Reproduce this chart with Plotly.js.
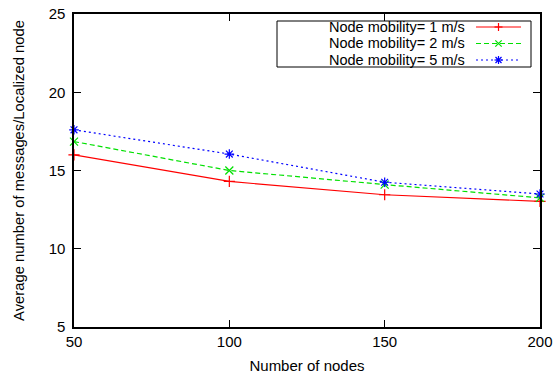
<!DOCTYPE html>
<html>
<head>
<meta charset="utf-8">
<script src="https://cdn.plot.ly/plotly-3.0.1.min.js"></script>
<style>html,body{margin:0;padding:0;background:#fff;}#chart{width:554px;height:374px;}</style>
</head>
<body>
<div id="chart"></div>
<script>
// Data
var nodes = [50, 100, 150, 200];
var mobility1 = [16.0, 14.3, 13.45, 13.03];
var mobility2 = [16.85, 15.0, 14.1, 13.25];
var mobility5 = [17.6, 16.05, 14.25, 13.5];
var seriesNames = ["Node mobility= 1 m/s", "Node mobility= 2 m/s", "Node mobility= 5 m/s"];
var xTicks = [50, 100, 150, 200];
var yTicks = [5, 10, 15, 20, 25];

var colors = ["#ff0000", "#00e000", "#0000ff"];
var dashes = ["solid", "5px,3px", "2px,3px"];
var symbols = ["cross-thin-open", "x-thin-open", "asterisk-open"];
var seriesVals = [mobility1, mobility2, mobility5];

var traces = seriesVals.map(function (v, i) {
  return {
    x: nodes, y: v, type: "scatter", mode: "lines+markers", name: seriesNames[i],
    line: {color: colors[i], width: 1.2, dash: dashes[i]},
    marker: {symbol: symbols[i], size: 8, color: colors[i], line: {color: colors[i], width: 1.2}},
    showlegend: false, cliponaxis: false
  };
});

var font = "Liberation Sans, Arial, Helvetica, sans-serif";

// manual gnuplot-style legend (paper coords); plot area 466 x 313 px, top at 14px
var W = 466, H = 313, TOP = 14, LEFT = 74;
function pxX(p) { return (p - LEFT) / W; }
function pxY(p) { return (TOP + H - p) / H; }
function px(dx) { return dx / W; }
function py(dy) { return dy / H; }
var legRowsY = [pxY(27), pxY(43.5), pxY(60)];
var shapes = [{type: "rect", xref: "paper", yref: "paper", x0: pxX(277), x1: pxX(531), y0: pxY(67), y1: pxY(21),
  line: {color: "#000", width: 1}, fillcolor: "rgba(0,0,0,0)"}];
var annotations = [];
seriesNames.forEach(function (n, i) {
  var y = legRowsY[i];
  annotations.push({xref: "paper", yref: "paper", x: pxX(467), y: y, text: n, showarrow: false,
    xanchor: "right", yanchor: "middle", font: {family: font, size: 14.5, color: "#000"}});
  shapes.push({type: "line", xref: "paper", yref: "paper", x0: pxX(476), x1: pxX(521), y0: y, y1: y,
    line: {color: colors[i], width: 1.2, dash: dashes[i]}});
});
var mx = pxX(498.5);
(function () {
  var y = legRowsY[0], r = 4;
  shapes.push({type: "line", xref: "paper", yref: "paper", x0: mx - px(r), x1: mx + px(r), y0: y, y1: y, line: {color: colors[0], width: 1.2}});
  shapes.push({type: "line", xref: "paper", yref: "paper", x0: mx, x1: mx, y0: y - py(r), y1: y + py(r), line: {color: colors[0], width: 1.2}});
  y = legRowsY[1]; r = 3.2;
  shapes.push({type: "line", xref: "paper", yref: "paper", x0: mx - px(r), x1: mx + px(r), y0: y - py(r), y1: y + py(r), line: {color: colors[1], width: 1.2}});
  shapes.push({type: "line", xref: "paper", yref: "paper", x0: mx - px(r), x1: mx + px(r), y0: y + py(r), y1: y - py(r), line: {color: colors[1], width: 1.2}});
  y = legRowsY[2]; r = 4; var d = 3;
  shapes.push({type: "line", xref: "paper", yref: "paper", x0: mx - px(r), x1: mx + px(r), y0: y, y1: y, line: {color: colors[2], width: 1.2}});
  shapes.push({type: "line", xref: "paper", yref: "paper", x0: mx, x1: mx, y0: y - py(r), y1: y + py(r), line: {color: colors[2], width: 1.2}});
  shapes.push({type: "line", xref: "paper", yref: "paper", x0: mx - px(d), x1: mx + px(d), y0: y - py(d), y1: y + py(d), line: {color: colors[2], width: 1.2}});
  shapes.push({type: "line", xref: "paper", yref: "paper", x0: mx - px(d), x1: mx + px(d), y0: y + py(d), y1: y - py(d), line: {color: colors[2], width: 1.2}});
})();

var layout = {
  width: 554, height: 374,
  margin: {l: 74, r: 14, t: 14, b: 47},
  paper_bgcolor: "#fff", plot_bgcolor: "#fff",
  font: {family: font, size: 15, color: "#000"},
  showlegend: false,
  xaxis: {
    range: [50, 200], tickvals: xTicks, ticktext: xTicks.map(String),
    ticks: "inside", ticklen: 7, tickwidth: 1, tickcolor: "#000",
    showline: true, linecolor: "#000", linewidth: 1.6, mirror: "ticks",
    showgrid: false, zeroline: false,
    tickfont: {family: font, size: 15, color: "#000"},
    title: {text: "Number of nodes", font: {family: font, size: 15, color: "#000"}, standoff: 12}
  },
  yaxis: {
    range: [5, 25], tickvals: yTicks, ticktext: yTicks.map(String),
    ticks: "inside", ticklen: 7, tickwidth: 1, tickcolor: "#000",
    showline: true, linecolor: "#000", linewidth: 1.6, mirror: "ticks",
    showgrid: false, zeroline: false,
    ticklabelstandoff: 4,
    tickfont: {family: font, size: 15, color: "#000"},
    title: {text: "Average number of messages/Localized node", font: {family: font, size: 14.8, color: "#000"}, standoff: 20}
  },
  shapes: shapes,
  annotations: annotations
};

Plotly.newPlot("chart", traces, layout, {displayModeBar: false, staticPlot: true});
</script>
</body>
</html>
